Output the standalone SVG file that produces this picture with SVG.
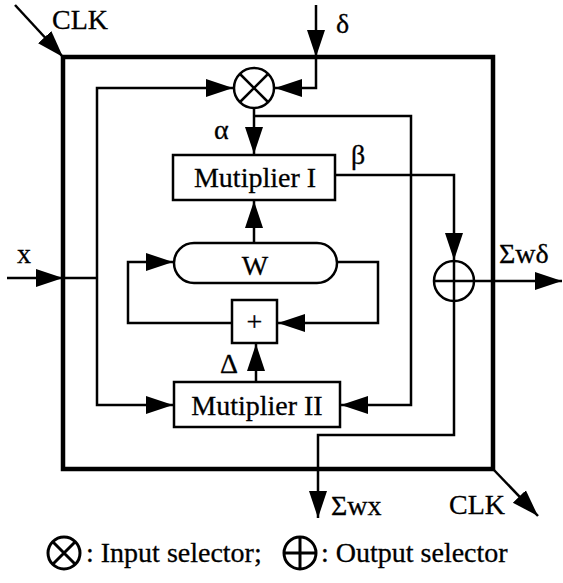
<svg xmlns="http://www.w3.org/2000/svg" width="563" height="583" viewBox="0 0 563 583" font-family="'Liberation Serif', 'Times New Roman', 'DejaVu Serif', serif">
<style>
  text { font-family: "Liberation Serif", "Times New Roman", "DejaVu Serif", serif; font-size: 28px; fill: #000; stroke: #000; stroke-width: 0.3; }
  .box { fill: #fff; stroke: #000; stroke-width: 2.5; }
  .wire { fill: none; stroke: #000; stroke-width: 2.5; stroke-linejoin: miter; }
  .thick { fill: none; stroke: #000; stroke-width: 4.5; }
  .sym { fill: none; stroke: #000; stroke-width: 2.5; }
</style>
<defs>
  <marker id="ah" markerUnits="userSpaceOnUse" markerWidth="27" markerHeight="20" viewBox="0 0 27 20" refX="27" refY="10" orient="auto-start-reverse">
    <path d="M0,1 L27,10 L0,19 z" fill="#000"/>
  </marker>
</defs>

<g id="neuron-frame">
  <rect class="thick" x="63" y="57" width="430" height="412"/>
</g>

<g id="connectors">
  <path class="wire" d="M15,5 L63,57" marker-end="url(#ah)"/>
  <path class="wire" d="M316,5 L316,57" marker-end="url(#ah)"/>
  <path class="wire" d="M316,57 L316,88 L275,88" marker-end="url(#ah)"/>
  <path class="wire" d="M233,88 L97,88 L97,405 L173,405" marker-start="url(#ah)" marker-end="url(#ah)"/>
  <path class="wire" d="M7,278 L63,278" marker-end="url(#ah)"/>
  <path class="wire" d="M63,278 L97,278"/>
  <path class="wire" d="M254,108 L254,154" marker-end="url(#ah)"/>
  <path class="wire" d="M254,116 L411,116 L411,405 L341,405" marker-end="url(#ah)"/>
  <path class="wire" d="M336,175 L454,175 L454,260" marker-end="url(#ah)"/>
  <path class="wire" d="M254,243 L254,201" marker-end="url(#ah)"/>
  <path class="wire" d="M232,323 L128,323 L128,262 L173,262" marker-end="url(#ah)"/>
  <path class="wire" d="M337,262 L378,262 L378,323 L278,323" marker-end="url(#ah)"/>
  <path class="wire" d="M256,382 L256,344" marker-end="url(#ah)"/>
  <path class="wire" d="M474,281 L562,281" marker-end="url(#ah)"/>
  <path class="wire" d="M454,301 L454,435 L318,435 L318,518" marker-end="url(#ah)"/>
  <path class="wire" d="M493,469 L538,516" marker-end="url(#ah)"/>
</g>

<g id="input-selector">
  <circle class="sym" cx="254" cy="88" r="20"/>
  <path class="sym" d="M240,74 L268,102 M268,74 L240,102"/>
</g>
<g id="multiplier-1">
  <rect class="box" x="173" y="155" width="162" height="45"/>
  <text x="255" y="187" text-anchor="middle">Mutiplier I</text>
</g>
<g id="weight">
  <rect class="box" x="174" y="243" width="163" height="40" rx="20" ry="20"/>
  <text x="255" y="275" text-anchor="middle">W</text>
</g>
<g id="adder">
  <rect class="box" x="232" y="300" width="45" height="43"/>
  <text x="254.5" y="331" text-anchor="middle">+</text>
</g>
<g id="multiplier-2">
  <rect class="box" x="174" y="382" width="166" height="45"/>
  <text x="257" y="415" text-anchor="middle">Mutiplier II</text>
</g>
<g id="output-selector">
  <circle class="sym" cx="454" cy="281" r="20"/>
  <path class="sym" d="M434,281 L474,281 M454,261 L454,301"/>
</g>

<g id="labels">
  <text x="52" y="29">CLK</text>
  <text x="336" y="33">δ</text>
  <text x="214" y="139">α</text>
  <text x="351" y="164">β</text>
  <text x="17" y="263">x</text>
  <text x="499" y="263">Σwδ</text>
  <text x="220" y="373">Δ</text>
  <text x="331" y="515">Σwx</text>
  <text x="449" y="514">CLK</text>
</g>

<g id="legend">
  <circle class="sym" cx="64" cy="553" r="16" style="stroke-width:3"/>
  <path class="sym" d="M53,542 L75,564 M75,542 L53,564" style="stroke-width:3"/>
  <text x="86" y="562">: Input selector;</text>
  <circle class="sym" cx="300" cy="553" r="16" style="stroke-width:3"/>
  <path class="sym" d="M284,553 L316,553 M300,537 L300,569" style="stroke-width:3"/>
  <text x="321" y="562">: Output selector</text>
</g>
</svg>
